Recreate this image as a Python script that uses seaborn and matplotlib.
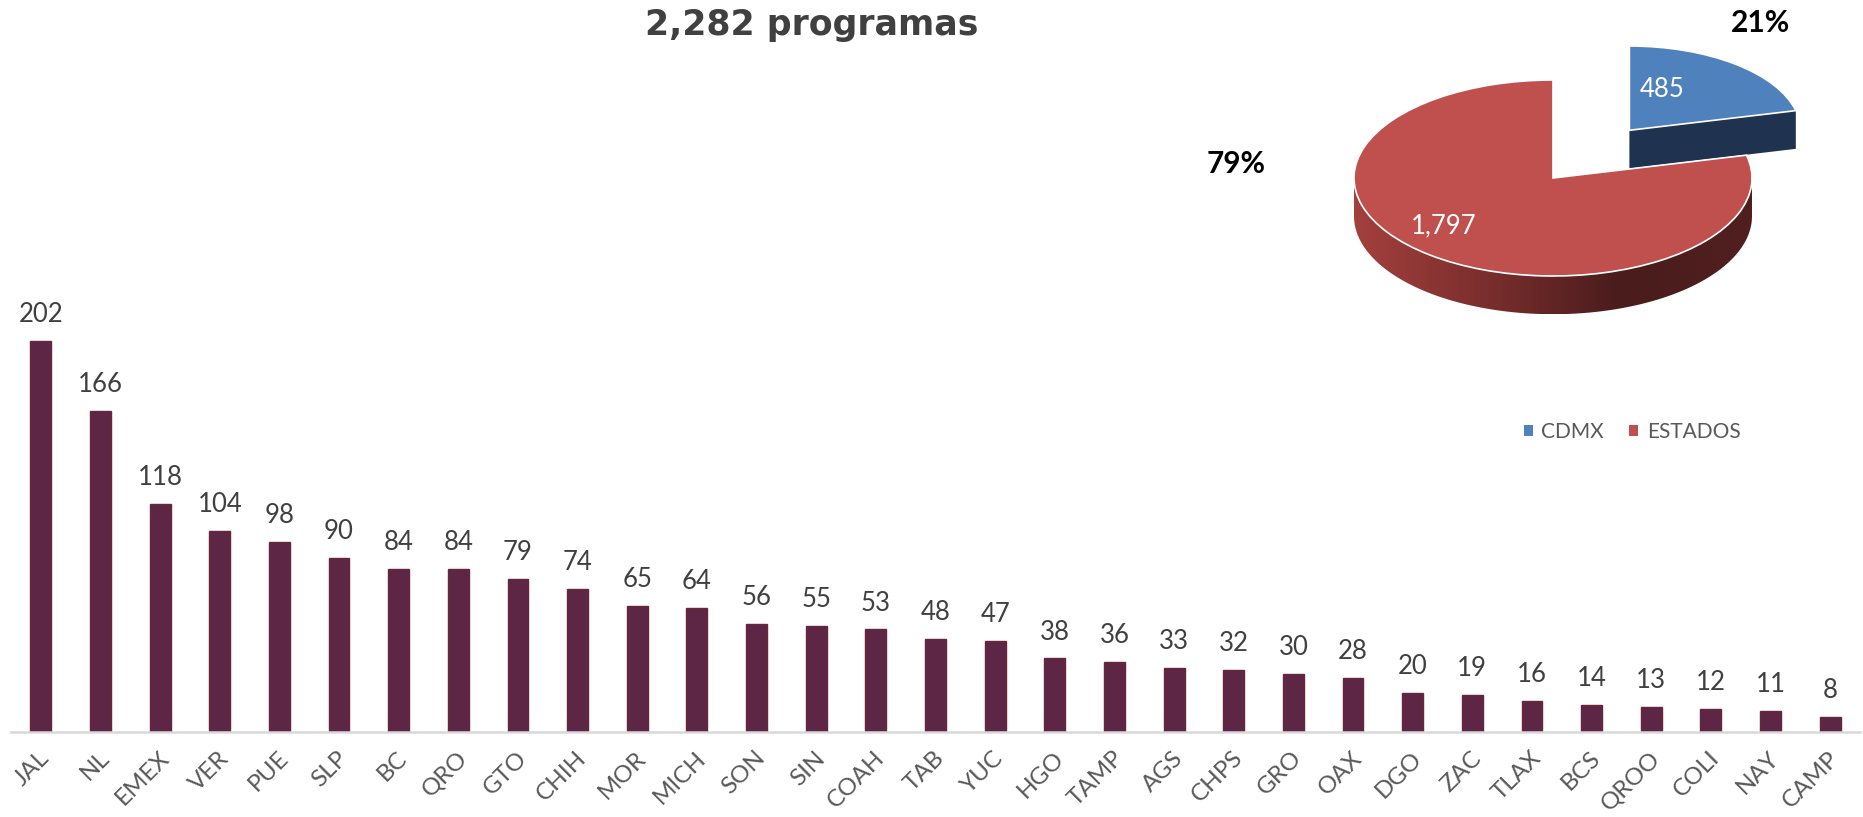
import numpy as np
import seaborn as sns
import matplotlib.pyplot as plt
from matplotlib.patches import Polygon, Patch
from matplotlib.colors import LinearSegmentedColormap
import matplotlib.transforms as mtransforms

estados = ["JAL", "NL", "EMEX", "VER", "PUE", "SLP", "BC", "QRO", "GTO", "CHIH",
           "MOR", "MICH", "SON", "SIN", "COAH", "TAB", "YUC", "HGO", "TAMP", "AGS",
           "CHPS", "GRO", "OAX", "DGO", "ZAC", "TLAX", "BCS", "QROO", "COLI", "NAY", "CAMP"]
programas = [202, 166, 118, 104, 98, 90, 84, 84, 79, 74,
             65, 64, 56, 55, 53, 48, 47, 38, 36, 33,
             32, 30, 28, 20, 19, 16, 14, 13, 12, 11, 8]

pie_labels = ["CDMX", "ESTADOS"]
pie_values = [485, 1797]
total = sum(pie_values)

sns.set_style("white")
plt.rcParams['font.family'] = ['Lato', 'DejaVu Sans']

W, H = 1863, 817
fig = plt.figure(figsize=(W / 100, H / 100), dpi=100)

# ---- bar chart ----
ax = fig.add_axes([11 / W, 85 / H, 1849 / W, 532 / H])
sns.barplot(x=estados, y=programas, color="#5C2644", saturation=1, width=0.35,
            edgecolor="#6A2638", linewidth=1, ax=ax)
ax.set_xlim(-0.5, len(estados) - 0.5)
ax.set_ylim(0, 532 / 1.936)
ax.bar_label(ax.containers[0], padding=10, fontsize=18.5, color="#404040")
for s in ["top", "left", "right"]:
    ax.spines[s].set_visible(False)
ax.spines["bottom"].set_color("#D9D9D9")
ax.spines["bottom"].set_linewidth(1.8)
ax.set_yticks([])
ax.set_ylabel("")
ax.tick_params(axis="x", length=0, pad=11, labelsize=17.5, labelcolor="#595959")
offset = mtransforms.ScaledTranslation(-2 / 100, 0, fig.dpi_scale_trans)
for lab in ax.get_xticklabels():
    lab.set_rotation(45)
    lab.set_ha("right")
    lab.set_rotation_mode("anchor")
    lab.set_transform(lab.get_transform() + offset)

# ---- 3D-looking pie ----
cy_px, b_px = 178, 98
pax = fig.add_axes([1324.15 / W, (817 - (cy_px + 1.75 * b_px)) / H, 537.3 / W, 3.5 * b_px / H])
colors_top = ["#4F81BD", "#C0504D"]
wedges, texts, autotexts = pax.pie(
    pie_values, colors=colors_top, startangle=90, counterclock=False,
    explode=[0.62, 0], autopct=lambda p: f"{p * total / 100:,.0f}",
    wedgeprops=dict(edgecolor="white", linewidth=1.2),
    textprops=dict(color="white", fontsize=18.5))
# back slice looks smaller (perspective)
wedges[0].set_radius(0.86)

depth = 0.39
side_cmaps = [LinearSegmentedColormap.from_list("b", ["#1F3350", "#1F3350"]),
              LinearSegmentedColormap.from_list("r", ["#A3403D", "#7A2E2D", "#4A1C1C", "#511F1F"])]

order = np.argsort([-w.center[1] for w in wedges])
z = 1
for i in order:
    w = wedges[i]
    cx, cy = w.center
    r, t1, t2 = w.r, w.theta1, w.theta2
    polys = []
    # curved front rim
    for k in range(-2, 3):
        a0, a1 = max(t1, -180 + 360 * k), min(t2, 360 * k)
        if a1 > a0:
            t = np.radians(np.linspace(a0, a1, 100))
            xs, ys = cx + r * np.cos(t), cy + r * np.sin(t)
            polys.append(np.column_stack([np.r_[xs, xs[::-1]], np.r_[ys, ys[::-1] - depth]]))
    # flat radial faces
    for t, vis in [(t1, np.cos(np.radians(t1)) > 1e-6), (t2, np.cos(np.radians(t2)) < -1e-6)]:
        if vis:
            ex, ey = cx + r * np.cos(np.radians(t)), cy + r * np.sin(np.radians(t))
            polys.append(np.array([[cx, cy], [ex, ey], [ex, ey - depth], [cx, cy - depth]]))
    for pts in polys:
        poly = Polygon(pts, closed=True, facecolor="none", edgecolor="none", zorder=z)
        pax.add_patch(poly)
        grad = np.linspace(0, 1, 256).reshape(1, -1)
        im = pax.imshow(grad, cmap=side_cmaps[i], aspect="auto", zorder=z,
                        extent=[cx - r, cx + r, cy - r - depth, cy + r], interpolation="bilinear")
        im.set_clip_path(poly)
    w.set_zorder(z + 1)
    z += 2

autotexts[0].set_position((0.55, 0.9))
autotexts[1].set_position((-0.55, -0.49))
for t in autotexts:
    t.set_zorder(20)

pax.set_aspect("auto")
pax.set_xlim(-1.15, 1.55)
pax.set_ylim(-1.75, 1.75)
pax.axis("off")

# percentages
pcts = [round(v / total * 100) for v in pie_values]
fig.text(1760 / W, 1 - 23 / H, f"{pcts[0]}%", ha="center", va="center",
         fontsize=21.5, fontweight="bold", color="black")
fig.text(1236 / W, 1 - 164 / H, f"{pcts[1]}%", ha="center", va="center",
         fontsize=21.5, fontweight="bold", color="black")

# legend
handles = [Patch(facecolor=c, edgecolor="none") for c in colors_top]
fig.legend(handles, pie_labels, loc="center", bbox_to_anchor=(1632 / W, 1 - 432 / H),
           ncol=2, frameon=False, fontsize=15, labelcolor="#595959",
           handlelength=0.45, handleheight=0.45, handletextpad=0.4, columnspacing=1.2)

# title
fig.text(812 / W, 1 - 25 / H, f"{total:,} programas", ha="center", va="center",
         fontsize=25, fontweight="bold", color="#404040", family="DejaVu Sans")

fig.savefig("out.png", dpi=100)
